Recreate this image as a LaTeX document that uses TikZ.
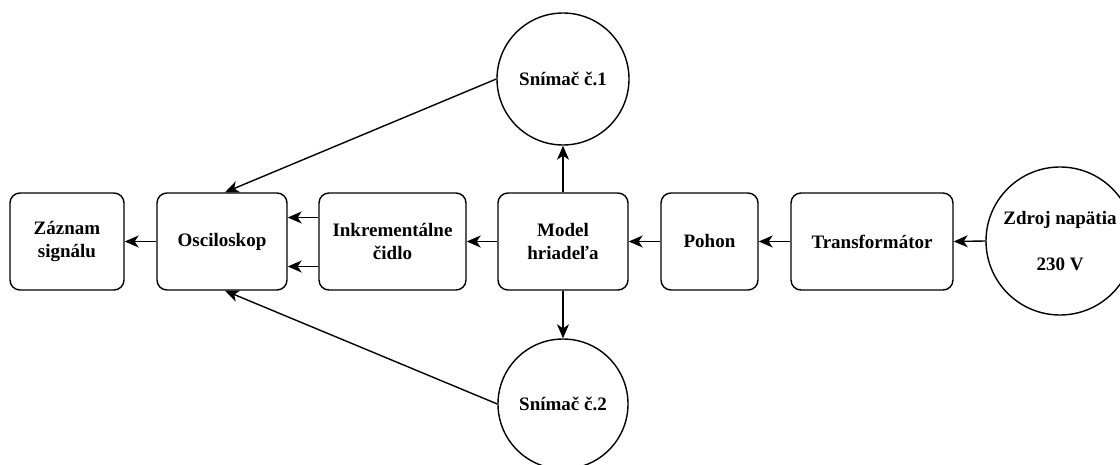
\documentclass[tikz,border=0pt]{standalone}
\usepackage{fontspec}
\setmainfont{Liberation Serif}
\usetikzlibrary{arrows.meta}
\begin{document}
\begin{tikzpicture}[x=1pt,y=-1pt,
  every node/.style={font=\fontsize{19}{23}\selectfont\bfseries, align=center, line width=1.4pt},
  blok/.style={draw, rectangle, rounded corners=10pt, minimum height=97pt, inner sep=0pt},
  kruh/.style={draw, circle, inner sep=0pt},
  sip/.style={line width=1.4pt, -{Stealth[length=14pt,width=12pt,inset=4pt]}}]
  \useasboundingbox (0,0) rectangle (1120,465);
  % signal chain
  \node[blok, minimum width=114pt] (zaznam) at (67,241.5) {Záznam\\signálu};
  \node[blok, minimum width=130pt] (osc) at (222,241.5) {Osciloskop};
  \node[blok, minimum width=147pt] (inkr) at (392.5,241.5) {Inkrementálne\\čidlo};
  \node[blok, minimum width=130pt] (model) at (563,241.5) {Model\\hriadeľa};
  \node[blok, minimum width=97pt] (pohon) at (709.5,241.5) {Pohon};
  \node[blok, minimum width=162pt] (trans) at (872,241.5) {Transformátor};
  \node[kruh, minimum size=148pt] (zdroj) at (1060,241) {Zdroj napätia\\[23pt]230 V};
  % sensors
  \node[kruh, minimum size=132pt] (s1) at (563,79) {Snímač č.1};
  \node[kruh, minimum size=130pt] (s2) at (563,404) {Snímač č.2};
  % connectors
  \draw[sip] (zdroj.west) -- (trans.east);
  \draw[sip] (trans.west) -- (pohon.east);
  \draw[sip] (pohon.west) -- (model.east);
  \draw[sip] (model.west) -- (inkr.east);
  \draw[sip] ([yshift=24pt]inkr.west) -- ([yshift=24pt]osc.east);
  \draw[sip] ([yshift=-25pt]inkr.west) -- ([yshift=-25pt]osc.east);
  \draw[sip] (osc.west) -- (zaznam.east);
  \draw[sip] (model.north) -- (s1.south);
  \draw[sip] (model.south) -- (s2.north);
  \draw[sip] (s1.west) -- ([xshift=3pt]osc.north);
  \draw[sip] (s2.west) -- ([xshift=3pt]osc.south);
\end{tikzpicture}
\end{document}
